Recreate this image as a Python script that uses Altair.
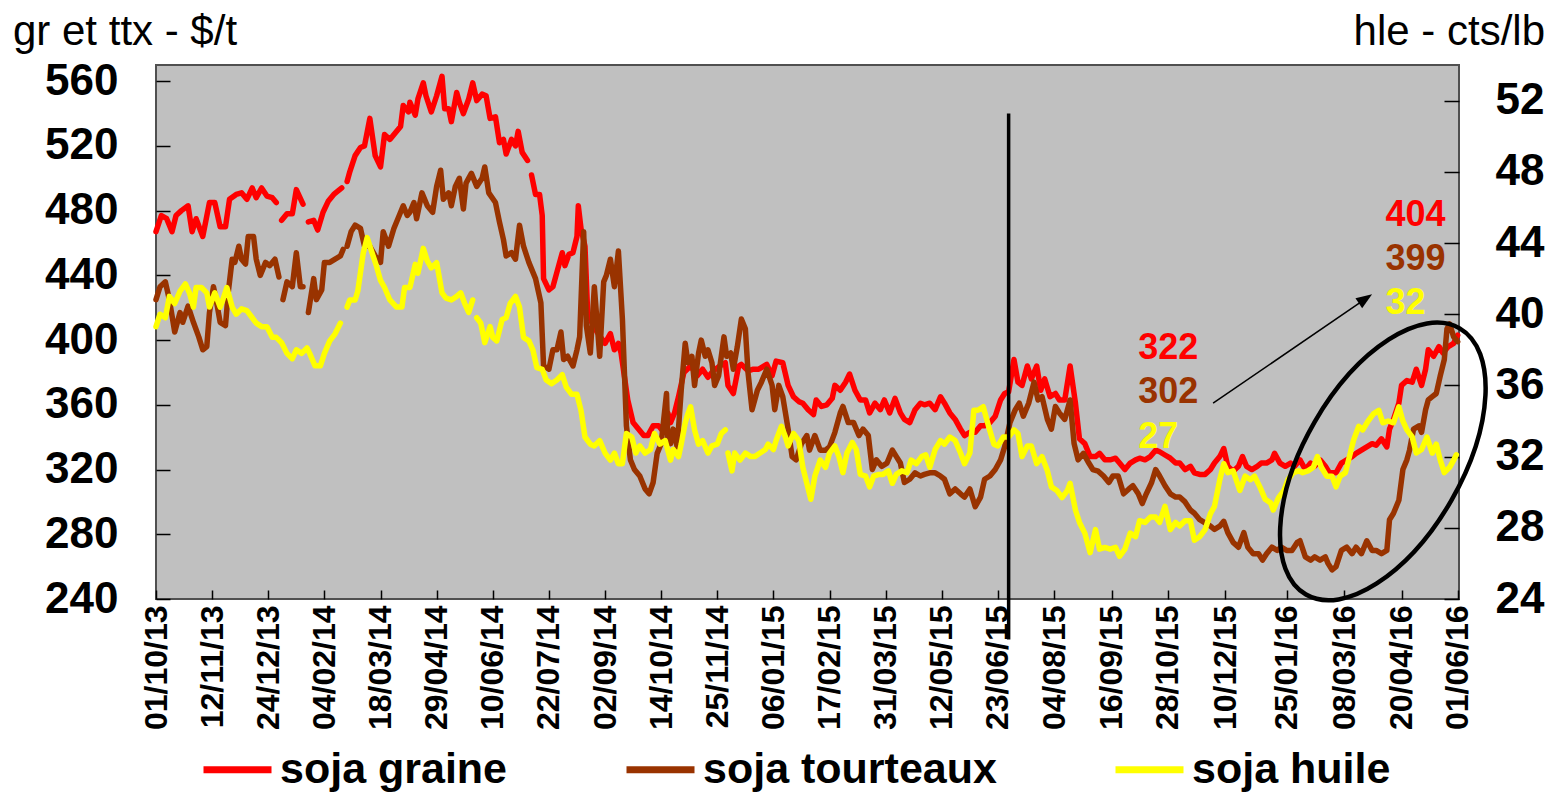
import altair as alt
import pandas as pd

FONT = "Liberation Sans"
BASE = "2013-10-01"

# ---------------- axis texts ----------------
left_title = "gr et ttx - $/t"
right_title = "hle - cts/lb"
tick_labels = ["01/10/13", "12/11/13", "24/12/13", "04/02/14", "18/03/14", "29/04/14",
               "10/06/14", "22/07/14", "02/09/14", "14/10/14", "25/11/14", "06/01/15",
               "17/02/15", "31/03/15", "12/05/15", "23/06/15", "04/08/15", "16/09/15",
               "28/10/15", "10/12/15", "25/01/16", "08/03/16", "20/04/16", "01/06/16"]
left_ticks = [240, 280, 320, 360, 400, 440, 480, 520, 560]
right_ticks = [24, 28, 32, 36, 40, 44, 48, 52]
series_names = ["soja graine", "soja tourteaux", "soja huile"]
series_colors = ["#FF0000", "#993300", "#FFFF00"]

# ---------------- series: (days since 01/10/13, value); None = gap ----------------
soja_graine = [
    (0, 467), (4, 477), (8, 475), (12, 467), (15, 477), (19, 480), (24, 483), (27, 467), (30, 475), (35, 464),
    (40, 485), (44, 485), (48, 470), (52, 470), (55, 487), (60, 490), (64, 491), (68, 487), (72, 494), (75, 488),
    (79, 494), (83, 489), (87, 488), (90, 485), (92, None), (94, 474), (98, 478), (102, 478), (105, 493), (110, 484),
    (112, None), (114, 473), (118, 474), (121, 468), (125, 479), (129, 486), (133, 490), (136, 492), (139, 494), (141, None),
    (143, 498), (145, 504), (149, 514), (153, 519), (156, 520), (160, 537), (164, 514), (168, 507), (171, 527), (175, 524),
    (179, 528), (183, 532), (185, 545), (189, 541), (190, 547), (194, 539), (196, 549), (200, 559), (202, 551), (206, 541),
    (210, 551), (214, 563), (216, 543), (219, 543), (221, 535), (225, 553), (227, 547), (230, 540), (234, 549), (237, 559),
    (240, 548), (244, 552), (247, 551), (250, 537), (254, 538), (257, 522), (260, 524), (262, 515), (266, 524), (269, 520),
    (271, 529), (274, 516), (278, 511), (280, None), (281, 502), (284, 490), (287, 490), (289, 477), (290, 438), (294, 431),
    (297, 433), (300, 442), (304, 454), (306, 446), (309, 453), (312, 454), (315, 464), (316, 483), (318, 469), (321, 458),
    (323, 417), (326, 411), (330, 405), (336, 398), (340, 404), (343, 394), (346, 398), (348, 392), (353, 363), (357, 349),
    (361, 345), (365, 341), (368, 341), (372, 347), (376, 347), (380, 343), (383, 355), (385, 349), (388, 355), (391, 365),
    (395, 380), (400, 384), (405, 378), (409, 382), (413, 377), (417, 381), (422, 384), (426, 386), (428, 372), (432, 367),
    (436, 384), (438, 385), (443, 381), (447, 382), (451, 382), (453, 383), (457, 385), (461, 378), (464, 387), (469, 386),
    (473, 372), (477, 365), (481, 362), (484, 361), (488, 357), (492, 354), (494, 363), (498, 359), (502, 360), (506, 364),
    (508, 372), (512, 369), (516, 374), (519, 379), (523, 369), (527, 363), (531, 363), (534, 355), (538, 361), (542, 357),
    (545, 363), (549, 355), (553, 364), (557, 355), (560, 351), (564, 349), (568, 357), (572, 361), (575, 360), (579, 361),
    (583, 357), (587, 365), (590, 361), (594, 355), (598, 351), (602, 345), (605, 341), (609, 343), (613, 343), (617, 347),
    (620, 347), (624, 349), (628, 353), (632, 363), (635, 367), (638, 368), (642, 388), (645, 374), (648, 372), (652, 384),
    (655, 376), (659, 384), (662, 369), (665, 376), (669, 365), (673, 367), (676, 363), (680, 363), (684, 384), (688, 361),
    (691, 339), (695, 336), (699, 328), (703, 328), (706, 330), (710, 326), (714, 326), (718, 327), (721, 324), (725, 320),
    (729, 324), (733, 326), (736, 327), (740, 326), (744, 328), (748, 332), (751, 331), (755, 329), (759, 327), (763, 324),
    (766, 324), (770, 320), (774, 322), (777, 318), (781, 317), (785, 317), (789, 320), (792, 324), (796, 328), (799, 333),
    (802, 322), (806, 319), (810, 322), (813, 328), (816, 322), (820, 320), (824, 322), (827, 324), (831, 324), (835, 326),
    (837, 330), (841, 324), (845, 322), (849, 324), (852, 322), (856, 326), (860, 320), (864, 324), (867, 322), (871, 326),
    (875, 322), (878, 318), (883, 318), (887, 324), (891, 326), (895, 328), (898, 330), (902, 332), (906, 334), (910, 336),
    (913, 335), (917, 339), (921, 334), (923, 345), (926, 351), (930, 361), (932, 372), (936, 375), (940, 374), (943, 382),
    (947, 372), (950, 382), (952, 394), (956, 390), (960, 396), (963, 392), (967, 396), (971, 398), (974, 403),
]

soja_tourteaux = [
    (0, 425), (3, 433), (7, 436), (10, 425), (14, 405), (18, 417), (20, 411), (24, 421), (28, 411), (32, 402),
    (35, 394), (38, 396), (40, 417), (43, 433), (45, 425), (48, 411), (52, 409), (54, 429), (57, 450), (59, 448),
    (62, 458), (64, 450), (67, 447), (69, 464), (73, 464), (75, 450), (78, 440), (82, 448), (85, 446), (89, 450),
    (92, 439), (93, None), (95, 425), (98, 436), (102, 433), (105, 454), (108, 433), (110, 433), (112, None), (114, 417),
    (118, 438), (120, 425), (124, 431), (126, 448), (130, 448), (134, 450), (138, 452), (140, 456), (141, None), (143, 458),
    (146, 467), (149, 471), (153, 469), (156, 458), (160, 458), (164, 452), (168, 448), (170, 467), (174, 458), (178, 469),
    (181, 475), (185, 483), (188, 477), (190, 479), (193, 485), (195, 475), (199, 491), (203, 483), (207, 479), (210, 495),
    (213, 505), (215, 487), (219, 491), (221, 483), (224, 495), (227, 500), (230, 481), (232, 497), (236, 503), (240, 495),
    (244, 500), (246, 507), (249, 491), (254, 485), (257, 473), (260, 462), (262, 452), (266, 454), (269, 450), (272, 471),
    (275, 458), (279, 448), (281, 444), (284, 438), (288, 423), (290, 384), (294, 382), (297, 394), (300, 394), (303, 405),
    (305, 388), (308, 390), (312, 384), (315, 394), (317, 402), (320, 467), (322, 409), (325, 392), (328, 433), (332, 390),
    (335, 436), (337, 440), (340, 450), (343, 433), (346, 455), (349, 413), (352, 347), (355, 326), (358, 320), (362, 316),
    (366, 308), (369, 305), (372, 312), (375, 330), (378, 336), (382, 367), (383, 338), (385, 336), (387, 345), (390, 334),
    (393, 369), (396, 398), (398, 386), (401, 390), (403, 372), (406, 392), (408, 400), (411, 390), (413, 394), (416, 386),
    (418, 372), (421, 378), (425, 402), (427, 390), (430, 392), (432, 382), (435, 396), (438, 413), (441, 407), (443, 380),
    (446, 357), (450, 369), (453, 374), (457, 382), (461, 372), (463, 357), (466, 372), (469, 365), (473, 345), (476, 328),
    (479, 326), (483, 336), (487, 341), (489, 332), (493, 341), (497, 332), (501, 332), (504, 334), (508, 343), (512, 355),
    (514, 359), (518, 349), (522, 349), (526, 341), (529, 345), (533, 341), (536, 320), (539, 326), (543, 322), (547, 324),
    (551, 332), (554, 328), (557, 324), (560, 312), (564, 314), (568, 318), (572, 316), (575, 317), (579, 318), (583, 318),
    (587, 316), (590, 314), (594, 305), (598, 308), (602, 305), (605, 303), (609, 308), (613, 297), (617, 303), (620, 314),
    (624, 316), (628, 320), (632, 326), (635, 334), (639, 349), (643, 357), (646, 361), (649, 353), (653, 361), (657, 374),
    (660, 363), (663, 365), (667, 351), (670, 345), (673, 359), (676, 355), (680, 351), (684, 363), (687, 336), (690, 326),
    (694, 330), (698, 324), (701, 320), (705, 319), (709, 316), (713, 312), (716, 316), (720, 316), (724, 305), (728, 308),
    (731, 310), (735, 305), (738, 299), (741, 305), (745, 312), (748, 320), (751, 316), (755, 310), (759, 305), (763, 303),
    (766, 303), (770, 300), (774, 295), (777, 293), (781, 289), (785, 287), (789, 285), (792, 283), (796, 285), (799, 288),
    (802, 281), (806, 275), (810, 272), (814, 281), (817, 272), (821, 268), (825, 268), (828, 264), (831, 268), (835, 272),
    (839, 270), (842, 272), (846, 270), (850, 270), (854, 275), (856, 276), (860, 266), (864, 264), (867, 266), (871, 264),
    (875, 266), (877, 262), (880, 258), (883, 260), (887, 270), (891, 272), (895, 268), (898, 272), (902, 268), (906, 276),
    (910, 270), (913, 270), (917, 268), (921, 270), (923, 289), (926, 293), (930, 301), (933, 320), (936, 326), (938, 332),
    (941, 345), (945, 347), (947, 343), (950, 357), (952, 363), (955, 365), (958, 367), (961, 378), (964, 388), (966, 407),
    (968, 410), (971, 402), (974, 399),
]

# soja huile, cts/lb (right axis)
soja_huile = [
    (0, 39.3), (3, 40.0), (7, 39.8), (10, 41.0), (14, 40.6), (18, 41.3), (22, 41.7), (25, 41.2), (28, 40.4), (30, 41.5),
    (34, 41.5), (38, 41.2), (40, 40.4), (44, 41.2), (48, 40.4), (50, 40.8), (53, 41.5), (57, 40.4), (60, 40.0), (64, 40.3),
    (68, 40.2), (72, 39.8), (75, 39.5), (79, 39.3), (83, 39.3), (87, 38.7), (90, 38.7), (94, 38.4), (98, 37.8), (102, 37.5),
    (105, 38.0), (109, 37.8), (113, 38.1), (115, 37.8), (119, 37.1), (123, 37.1), (126, 37.8), (130, 38.5), (134, 38.9), (138, 39.5),
    (140, None), (143, 40.4), (145, 40.8), (149, 40.8), (151, 41.3), (155, 43.4), (158, 44.3), (161, 43.6), (165, 42.7), (168, 41.9),
    (171, 41.5), (175, 40.8), (180, 40.4), (184, 40.4), (186, 41.5), (190, 41.5), (194, 42.8), (196, 42.3), (200, 43.7), (203, 43.0),
    (206, 42.6), (210, 42.9), (214, 41.2), (217, 40.9), (221, 40.8), (225, 41.0), (228, 41.2), (231, 40.6), (234, 40.1), (237, 40.8),
    (238, None), (240, 39.8), (243, 39.5), (246, 38.4), (250, 39.3), (252, 38.7), (255, 38.5), (259, 39.7), (262, 39.8), (265, 40.6),
    (269, 41.0), (272, 40.4), (275, 38.7), (279, 38.5), (282, 38.0), (285, 37.0), (289, 36.9), (292, 36.3), (296, 36.1), (300, 36.3),
    (304, 36.6), (307, 35.9), (311, 35.5), (315, 35.5), (318, 34.6), (321, 33.1), (325, 32.7), (328, 32.6), (332, 32.9), (336, 32.2),
    (340, 31.8), (343, 32.2), (346, 31.6), (349, 31.6), (352, 33.3), (356, 33.1), (359, 32.2), (362, 32.6), (366, 32.2), (370, 32.4),
    (373, 33.3), (377, 32.7), (381, 32.9), (385, 31.8), (387, 32.4), (391, 32.0), (393, 32.7), (396, 33.9), (398, 34.4), (400, 34.8),
    (403, 33.5), (406, 32.7), (409, 32.9), (413, 32.2), (416, 32.6), (420, 32.7), (423, 33.3), (426, 33.5), (427, None), (428, 32.2),
    (431, 31.2), (433, 32.2), (437, 31.8), (441, 32.2), (445, 32.0), (448, 32.0), (452, 32.2), (456, 32.4), (458, 32.7), (462, 32.4),
    (464, 32.9), (468, 33.7), (471, 33.1), (473, 32.6), (477, 33.3), (481, 32.9), (484, 31.4), (487, 30.5), (490, 29.6), (493, 30.9),
    (497, 31.8), (501, 31.4), (504, 32.2), (508, 32.6), (511, 32.0), (514, 31.1), (517, 32.2), (521, 32.8), (524, 32.4), (527, 31.0),
    (531, 30.9), (534, 30.3), (537, 30.9), (541, 31.0), (544, 31.0), (548, 31.2), (551, 30.5), (554, 31.0), (558, 31.2), (562, 31.1),
    (565, 31.8), (569, 31.6), (573, 32.0), (576, 32.1), (579, 31.4), (583, 32.4), (587, 32.9), (590, 32.7), (594, 33.1), (598, 32.9),
    (602, 32.2), (605, 31.6), (609, 32.2), (612, 34.6), (615, 34.6), (619, 34.8), (623, 33.7), (627, 32.7), (630, 32.6), (634, 33.1),
    (638, 33.1), (642, 33.5), (645, 33.3), (648, 32.0), (652, 32.6), (655, 32.6), (659, 31.6), (663, 32.0), (667, 31.2), (670, 30.3),
    (674, 30.1), (678, 29.7), (682, 30.1), (684, 30.5), (688, 29.0), (691, 28.3), (695, 27.7), (699, 26.6), (703, 27.9), (706, 26.8),
    (710, 26.9), (714, 26.8), (718, 26.9), (721, 26.4), (725, 26.8), (729, 27.7), (733, 27.5), (736, 28.4), (740, 28.3), (744, 28.6),
    (748, 28.6), (751, 28.3), (755, 29.2), (759, 27.9), (763, 28.3), (766, 28.1), (770, 28.4), (774, 28.4), (777, 27.3), (781, 27.5),
    (785, 27.9), (789, 28.8), (792, 29.2), (796, 30.7), (799, 31.6), (802, 31.1), (806, 31.2), (811, 30.1), (815, 30.9), (819, 30.7),
    (822, 30.9), (826, 30.3), (830, 29.6), (834, 29.4), (836, 29.0), (840, 29.7), (844, 30.1), (847, 30.7), (851, 31.1), (855, 31.2),
    (858, 31.1), (862, 31.2), (866, 31.4), (869, 32.0), (872, 31.4), (876, 30.9), (880, 30.9), (883, 30.3), (886, 30.9), (890, 31.1),
    (893, 32.0), (896, 32.9), (900, 33.7), (903, 33.5), (907, 34.0), (911, 34.4), (915, 34.6), (918, 33.9), (922, 34.0), (926, 33.9),
    (930, 34.8), (933, 34.0), (936, 33.5), (940, 33.1), (943, 32.2), (947, 32.4), (951, 33.1), (955, 32.2), (958, 32.7), (961, 31.8),
    (964, 31.1), (968, 31.4), (971, 31.8), (973, 32.1),
]

# ---------------- annotations ----------------
marker_date = "2015-07-01"          # vertical black line
marker_span = (540, 215)            # $/t, top and bottom
ann_text = ["322", "302", "27", "404", "399", "32"]
ann_dates = ["2015-10-06", "2015-10-06", "2015-10-06", "2016-04-08", "2016-04-08", "2016-04-08"]
ann_values = [395, 368, 340, 477, 450, 423]
ann_colors = ["#FF0000", "#993300", "#FFFF00", "#FF0000", "#993300", "#FFFF00"]
arrow_from = ("2015-12-01", 361)
arrow_to = ("2016-03-24", 425.5)
ellipse_center = ("2016-04-06", 325)

ELLIPSE_PATH = ("M 1 0 C 1 0.2833 0.5523 0.513 0 0.513 C -0.5523 0.513 -1 0.2833 -1 0 "
                "C -1 -0.2833 -0.5523 -0.513 0 -0.513 C 0.5523 -0.513 1 -0.2833 1 0 Z")
ARROW_PATH = "M -1 -0.75 L 1 0 L -1 0.75 Z"


def series_frame(pairs, name):
    d = pd.DataFrame(pairs, columns=["day", "value"])
    d["value"] = pd.to_numeric(d["value"])
    d["date"] = pd.Timestamp(BASE) + pd.to_timedelta(d["day"], unit="D")
    d["series"] = name
    return d[["date", "value", "series"]]


def dt(label):
    t = pd.to_datetime(label, format="%d/%m/%y")
    return alt.DateTime(year=t.year, month=t.month, date=t.day)


left_df = pd.concat([series_frame(soja_graine, series_names[0]),
                     series_frame(soja_tourteaux, series_names[1])], ignore_index=True)
right_df = series_frame(soja_huile, series_names[2])

x_scale = alt.Scale(domain=[alt.DateTime(year=2013, month=10, date=1),
                            alt.DateTime(year=2016, month=6, date=2)], nice=False)
x_axis = alt.Axis(values=[dt(s) for s in tick_labels], format="%d/%m/%y",
                  labelAngle=270, labelAlign="right", labelBaseline="middle",
                  labelFontSize=32, labelFontWeight="bold", labelFont=FONT, labelColor="black",
                  labelPadding=6, labelOverlap=False, labelFlush=False,
                  offset=-9, tickSize=9, tickColor="black", tickWidth=1.5,
                  domain=False, grid=False, title=None)


def X(field="date"):
    return alt.X(f"{field}:T", scale=x_scale, axis=x_axis)


yl_scale = alt.Scale(domain=[240, 570], nice=False, zero=False)
yr_scale = alt.Scale(domain=[24, 54], nice=False, zero=False)
yl_axis = alt.Axis(values=left_ticks, orient="left", offset=-14, tickSize=14, tickColor="black",
                   tickWidth=1.5, labelPadding=38, labelFontSize=44, labelFontWeight="bold",
                   labelFont=FONT, labelColor="black", labelOverlap=False, labelFlush=False,
                   domain=False, grid=False, title=None)
yr_axis = alt.Axis(values=right_ticks, orient="right", offset=-15, tickSize=15, tickColor="black",
                   tickWidth=1.5, labelPadding=36, labelAlign="left", labelFontSize=44,
                   labelFontWeight="bold", labelFont=FONT, labelColor="black", labelOverlap=False,
                   labelFlush=False, domain=False, grid=False, title=None)


def YL(field="value"):
    return alt.Y(f"{field}:Q", scale=yl_scale, axis=None)


legend = alt.Legend(orient="none", legendX=44, legendY=667, direction="horizontal", title=None,
                    symbolType="stroke", symbolSize=4624, symbolStrokeWidth=7,
                    labelFontSize=43, labelFontWeight="bold", labelFont=FONT, labelColor="black",
                    labelOffset=5, labelLimit=1000, columnPadding=104, padding=0)
color_enc = alt.Color("series:N", scale=alt.Scale(domain=series_names, range=series_colors), legend=legend)

line_style = dict(strokeWidth=5.5, strokeCap="round", strokeJoin="round", invalid="break-paths-filter-domains")

left_lines = alt.Chart(left_df).mark_line(**line_style).encode(
    x=X(), y=alt.Y("value:Q", scale=yl_scale, axis=yl_axis), color=color_enc)
right_line = alt.Chart(right_df).mark_line(**line_style).encode(
    x=X(), y=alt.Y("value:Q", scale=yr_scale, axis=yr_axis), color=color_enc)

vline = alt.Chart(pd.DataFrame({"date": [pd.Timestamp(marker_date)], "value": [marker_span[0]],
                                "value2": [marker_span[1]]})).mark_rule(
    color="black", strokeWidth=3.5).encode(x=X(), y=YL(), y2="value2:Q")

arrow_line = alt.Chart(pd.DataFrame({"date": [pd.Timestamp(arrow_from[0])], "value": [arrow_from[1]],
                                     "date2": [pd.Timestamp(arrow_to[0])], "value2": [arrow_to[1]]})).mark_rule(
    color="black", strokeWidth=1.5).encode(x=X(), x2="date2:T", y=YL(), y2="value2:Q")

arrow_head = alt.Chart(pd.DataFrame({"date": [pd.Timestamp(arrow_to[0])], "value": [arrow_to[1]]})).mark_point(
    shape=ARROW_PATH, filled=True, color="black", size=256, angle=326, opacity=1).encode(x=X(), y=YL())

ellipse = alt.Chart(pd.DataFrame({"date": [pd.Timestamp(ellipse_center[0])], "value": [ellipse_center[1]]})).mark_point(
    shape=ELLIPSE_PATH, filled=False, color="black", strokeWidth=4.5, size=94495, angle=300, opacity=1).encode(
    x=X(), y=YL())

ann_layers = []
for txt, d, v, c in zip(ann_text, ann_dates, ann_values, ann_colors):
    ann_layers.append(
        alt.Chart(pd.DataFrame({"date": [pd.Timestamp(d)], "value": [v], "label": [txt]})).mark_text(
            align="left", baseline="middle", fontSize=36, fontWeight="bold", font=FONT, color=c).encode(
            x=X(), y=YL(), text="label:N"))

title_l = alt.Chart(pd.DataFrame({"t": [left_title]})).mark_text(
    align="left", baseline="middle", fontSize=42, font=FONT, color="black").encode(
    text="t:N", x=alt.value(-143), y=alt.value(-33))
title_r = alt.Chart(pd.DataFrame({"t": [right_title]})).mark_text(
    align="right", baseline="middle", fontSize=42, font=FONT, color="black").encode(
    text="t:N", x=alt.value(1389), y=alt.value(-33))

chart = alt.layer(left_lines, right_line, vline, arrow_line, arrow_head, ellipse, *ann_layers,
                  title_l, title_r).resolve_scale(y="independent").properties(
    width=1303, height=534,
    autosize=alt.AutoSizeParams(type="none"),
    padding={"left": 148, "top": 57, "right": 88, "bottom": 194},
).configure_view(fill="#C0C0C0", stroke="#505050", strokeWidth=2)

chart.save("out.html", embed_options={"renderer": "svg", "actions": False})
